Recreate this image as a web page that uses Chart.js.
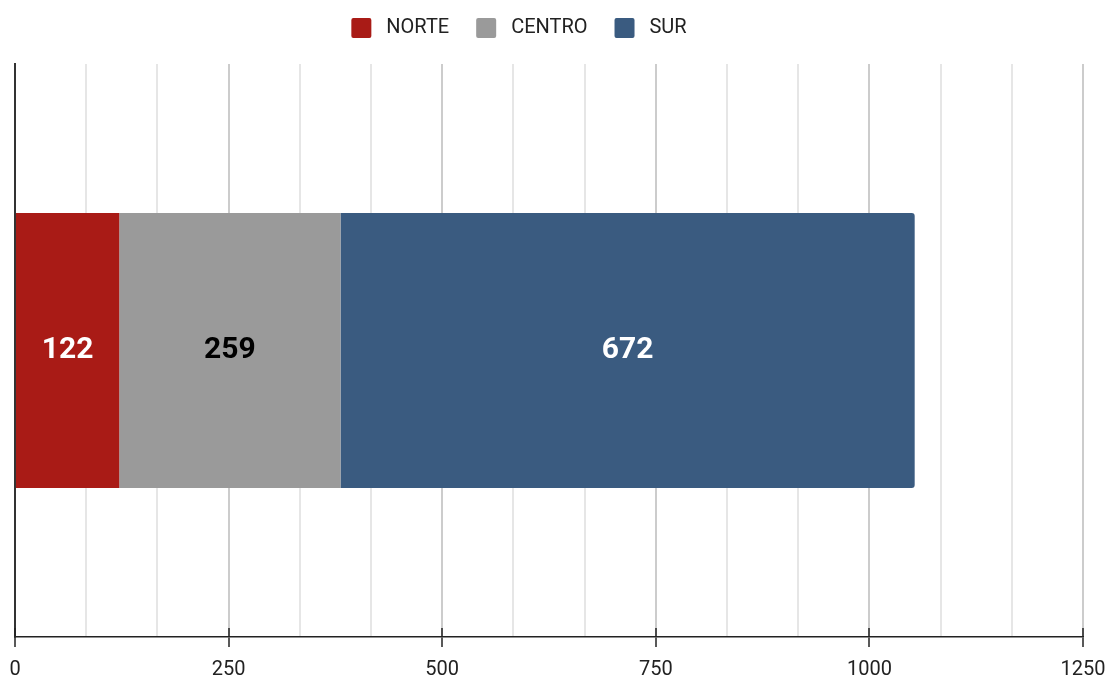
<!DOCTYPE html>
<html>
<head>
<meta charset="utf-8">
<script src="https://cdn.jsdelivr.net/npm/chart.js@4/dist/chart.umd.min.js"></script>
<style>
  html, body { margin: 0; padding: 0; background: #fff; }
  #wrap { width: 1107px; height: 680px; }
</style>
</head>
<body>
<div id="wrap"><canvas id="chart"></canvas></div>
<script>
const categories = [''];
const seriesNames = ['NORTE', 'CENTRO', 'SUR'];
const norte = [122];
const centro = [259];
const sur = [672];
const tickLabels = [0, 250, 500, 750, 1000, 1250];

const colors = ['#a91b16', '#9a9a9a', '#3a5b80'];
const labelColors = ['#ffffff', '#000000', '#ffffff'];

const isMajor = v => Math.abs(v / 250 - Math.round(v / 250)) < 1e-6;

// draws the value in the middle of every bar
const barLabels = {
    id: 'barLabels',
    afterDatasetsDraw(chart) {
        const ctx = chart.ctx;
        ctx.save();
        ctx.font = 'bold 30px Roboto';
        ctx.textAlign = 'center';
        ctx.textBaseline = 'middle';
        chart.data.datasets.forEach((ds, i) => {
            chart.getDatasetMeta(i).data.forEach((bar, j) => {
                const p = bar.getProps(['x', 'y', 'base'], true);
                ctx.fillStyle = labelColors[i];
                ctx.fillText(ds.data[j], (p.x + p.base) / 2, p.y);
            });
        });
        ctx.restore();
    }
};

// major tick marks also poke up above the axis line
const upTicks = {
    id: 'upTicks',
    afterDraw(chart) {
        const x = chart.scales.x, ctx = chart.ctx;
        const bottom = chart.chartArea.bottom;
        ctx.save();
        ctx.strokeStyle = '#222';
        ctx.lineWidth = 1.5;
        tickLabels.forEach(v => {
            const px = Math.round(x.getPixelForValue(v));
            ctx.beginPath();
            ctx.moveTo(px, bottom - 9);
            ctx.lineTo(px, bottom);
            ctx.stroke();
        });
        ctx.restore();
    }
};

// keep the wide legend padding but pull the legend up and a bit left
const legendShift = {
    id: 'legendShift',
    afterLayout(chart) {
        chart.legend.top -= 16;
        chart.legend.bottom -= 16;
        chart.legend.left -= 26;
        chart.legend.right -= 26;
    }
};

new Chart(document.getElementById('chart'), {
    type: 'bar',
    data: {
        labels: categories,
        datasets: [
            { label: seriesNames[0], data: norte, backgroundColor: colors[0] },
            { label: seriesNames[1], data: centro, backgroundColor: colors[1] },
            { label: seriesNames[2], data: sur, backgroundColor: colors[2], borderRadius: 3, borderSkipped: 'start' },
        ],
    },
    options: {
        indexAxis: 'y',
        responsive: true,
        maintainAspectRatio: false,
        animation: false,
        layout: { padding: { left: 7, right: 24, top: 7, bottom: -13 } },
        datasets: { bar: { barPercentage: 0.6, categoryPercentage: 0.8 } },
        plugins: {
            legend: {
                position: 'top',
                labels: {
                    font: { family: 'Roboto', size: 20 },
                    color: '#222',
                    boxWidth: 20,
                    boxHeight: 20,
                    useBorderRadius: true,
                    borderRadius: 2,
                    padding: 27,
                    generateLabels(chart) {
                        const items = Chart.defaults.plugins.legend.labels.generateLabels(chart);
                        items.forEach(it => { it.text = ' ' + it.text; });
                        return items;
                    },
                },
            },
            tooltip: { enabled: false },
        },
        scales: {
            x: {
                stacked: true,
                min: 0,
                max: 1250,
                afterFit(scale) {
                    scale.paddingLeft = 0;
                    scale.paddingRight = 0;
                },
                ticks: {
                    stepSize: 250 / 3,
                    autoSkip: false,
                    maxRotation: 0,
                    font: { family: 'Roboto', size: 20, lineHeight: 1 },
                    color: '#222',
                    padding: 13,
                    callback: v => isMajor(v) ? Math.round(v) : '',
                },
                grid: {
                    color: c => isMajor(c.tick.value) ? '#cccccc' : '#e6e6e6',
                    lineWidth: 2,
                    tickLength: 10,
                    tickColor: c => isMajor(c.tick.value) ? '#222' : 'rgba(0,0,0,0)',
                    tickWidth: 1.5,
                },
                border: { color: '#222', width: 1.5 },
            },
            y: {
                stacked: true,
                ticks: { display: false },
                grid: { display: false },
                border: { color: '#333', width: 2 },
            },
        },
    },
    plugins: [barLabels, upTicks, legendShift],
});
</script>
</body>
</html>
